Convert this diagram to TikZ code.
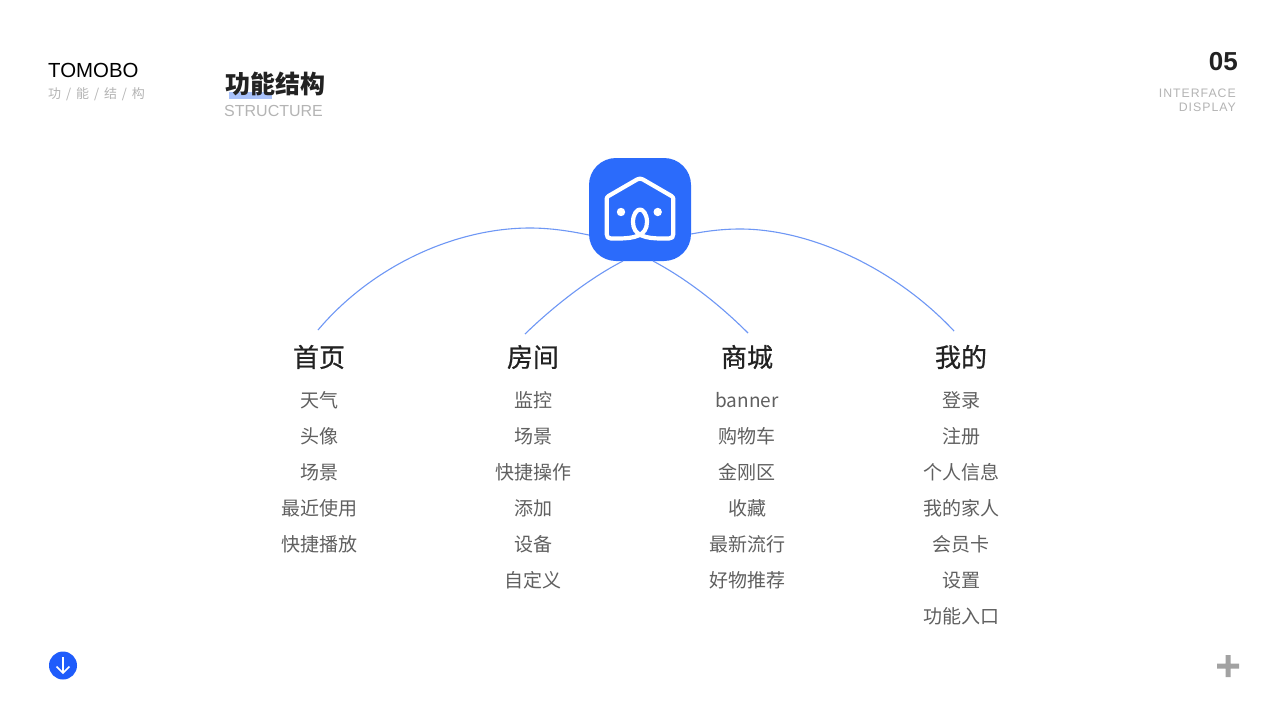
\documentclass[tikz,border=0pt]{standalone}
\usepackage{fontspec}
\setmainfont{Liberation Sans}
\newfontfamily\cjk{Noto Sans CJK SC}
\newfontfamily\cjkhead[FakeBold=0.7]{Noto Sans CJK SC}
\newfontfamily\spaced[LetterSpace=8]{Liberation Sans}
\definecolor{brandblue}{HTML}{2B6BFB}
\definecolor{linkblue}{HTML}{6E97F5}
\definecolor{markblue}{HTML}{A9C2FB}
\definecolor{downblue}{HTML}{1F5CFB}
\definecolor{inkdark}{HTML}{222222}
\definecolor{inkmid}{HTML}{606060}
\definecolor{inklight}{HTML}{B4B4B4}
\newcommand\slashgap{\hspace{2pt} / \hspace{2pt}}
\tikzset{
  heading/.style={font=\cjkhead\fontsize{26}{30}\selectfont, text=inkdark, inner sep=0pt},
  entry/.style={font=\cjk\fontsize{19}{23}\selectfont, text=inkmid, inner sep=0pt},
  link/.style={linkblue, line width=1.1pt},
  houseline/.style={white, line width=4.2pt, line join=round, line cap=round},
}

\begin{document}
\begin{tikzpicture}[x=1pt, y=-1pt]
  \useasboundingbox[fill=white] (0,0) rectangle (1280,720);

  % header
  \node[anchor=west, inner sep=0pt, text=black, font=\fontsize{20.4}{25}\selectfont] (brand) at (48,70) {TOMOBO};
  \node[anchor=west, inner sep=0pt, text=inklight, font=\cjk\fontsize{13}{16}\selectfont] (brandsub) at (48,94) {功\slashgap 能\slashgap 结\slashgap 构};
  \fill[markblue] (229,92) rectangle (272,99);
  \node[anchor=west, inner sep=0pt, text=inkdark, font=\cjk\bfseries\fontsize{25}{30}\selectfont] (title) at (225,84) {功能结构};
  \node[anchor=west, inner sep=0pt, text=inklight, font=\fontsize{16}{20}\selectfont] (titlesub) at (224,111) {STRUCTURE};
  \node[anchor=east, inner sep=0pt, text=inkdark, font=\bfseries\fontsize{26}{30}\selectfont] (pageno) at (1238,62) {05};
  \node[anchor=east, inner sep=0pt, text=inklight, font=\spaced\fontsize{12.3}{15}\selectfont] (pagea) at (1236,93) {INTERFACE};
  \node[anchor=east, inner sep=0pt, text=inklight, font=\spaced\fontsize{12.3}{15}\selectfont] (pageb) at (1236,107) {DISPLAY};

  % app icon
  \node[fill=brandblue, rounded corners=27pt, minimum width=102pt, minimum height=103pt, inner sep=0pt] (app) at (640,209.5) {};
  \draw[houseline] (637,179.5) -- (608.5,196) .. controls (607,197) and (606.7,198) .. (606.7,199) -- (606.7,234)
    .. controls (606.7,237) and (608,238.5) .. (611,238.5) -- (618,238.5)
    .. controls (634,238.5) and (647,236) .. (647,222) .. controls (647,214) and (643,209.5) .. (640,209.5)
    .. controls (637,209.5) and (633,214) .. (633,222) .. controls (633,236) and (646,238.5) .. (662,238.5)
    -- (669,238.5) .. controls (672,238.5) and (673.3,237) .. (673.3,234) -- (673.3,199)
    .. controls (673.3,198) and (673,197) .. (671.5,196) -- (643,179.5) .. controls (641,178.3) and (639,178.3) .. (637,179.5) -- cycle;
  \fill[white] (621,212) circle (4.2) (657.7,212) circle (4.2);

  % columns
  \node[heading] (home) at (319,357) {首页};
  \node[heading] (room) at (533,357) {房间};
  \node[heading] (shop) at (747,357) {商城};
  \node[heading] (mine) at (961,357) {我的};
  \foreach \txt [count=\i] in {天气,头像,场景,最近使用,快捷播放}
    \node[entry] (home\i) at (319,{364+36*\i}) {\txt};
  \foreach \txt [count=\i] in {监控,场景,快捷操作,添加,设备,自定义}
    \node[entry] (room\i) at (533,{364+36*\i}) {\txt};
  \foreach \txt [count=\i] in {banner,购物车,金刚区,收藏,最新流行,好物推荐}
    \node[entry] (shop\i) at (747,{364+36*\i}) {\txt};
  \foreach \txt [count=\i] in {登录,注册,个人信息,我的家人,会员卡,设置,功能入口}
    \node[entry] (mine\i) at (961,{364+36*\i}) {\txt};

  % links
  \coordinate (homeend) at (318,330);
  \coordinate (roomend) at (525,334);
  \coordinate (shopend) at (748,333);
  \coordinate (mineend) at (954,331);
  \draw[link] (app.west |- 0,235) .. controls (570,231) and (550,228) .. (530,228)
    .. controls (455,228) and (372,266) .. (homeend);
  \draw[link] (623,261) .. controls (590,278) and (555,305) .. (roomend);
  \draw[link] (653,261) .. controls (685,278) and (718,303) .. (shopend);
  \draw[link] (app.east |- 0,234) .. controls (707,231) and (723,229) .. (740,229)
    .. controls (810,229) and (895,268) .. (mineend);

  % corner marks
  \node[circle, fill=downblue, minimum size=28pt, inner sep=0pt] (down) at (63,665.5) {};
  \draw[white, line width=1.6pt] (63,657) -- (63,673) (56.5,666.5) -- (63,673) -- (69.5,666.5);
  \fill[inklight!90!black] (1225.5,655) rectangle (1230.5,677) (1217,663.5) rectangle (1239,668.5);
\end{tikzpicture}
\end{document}
